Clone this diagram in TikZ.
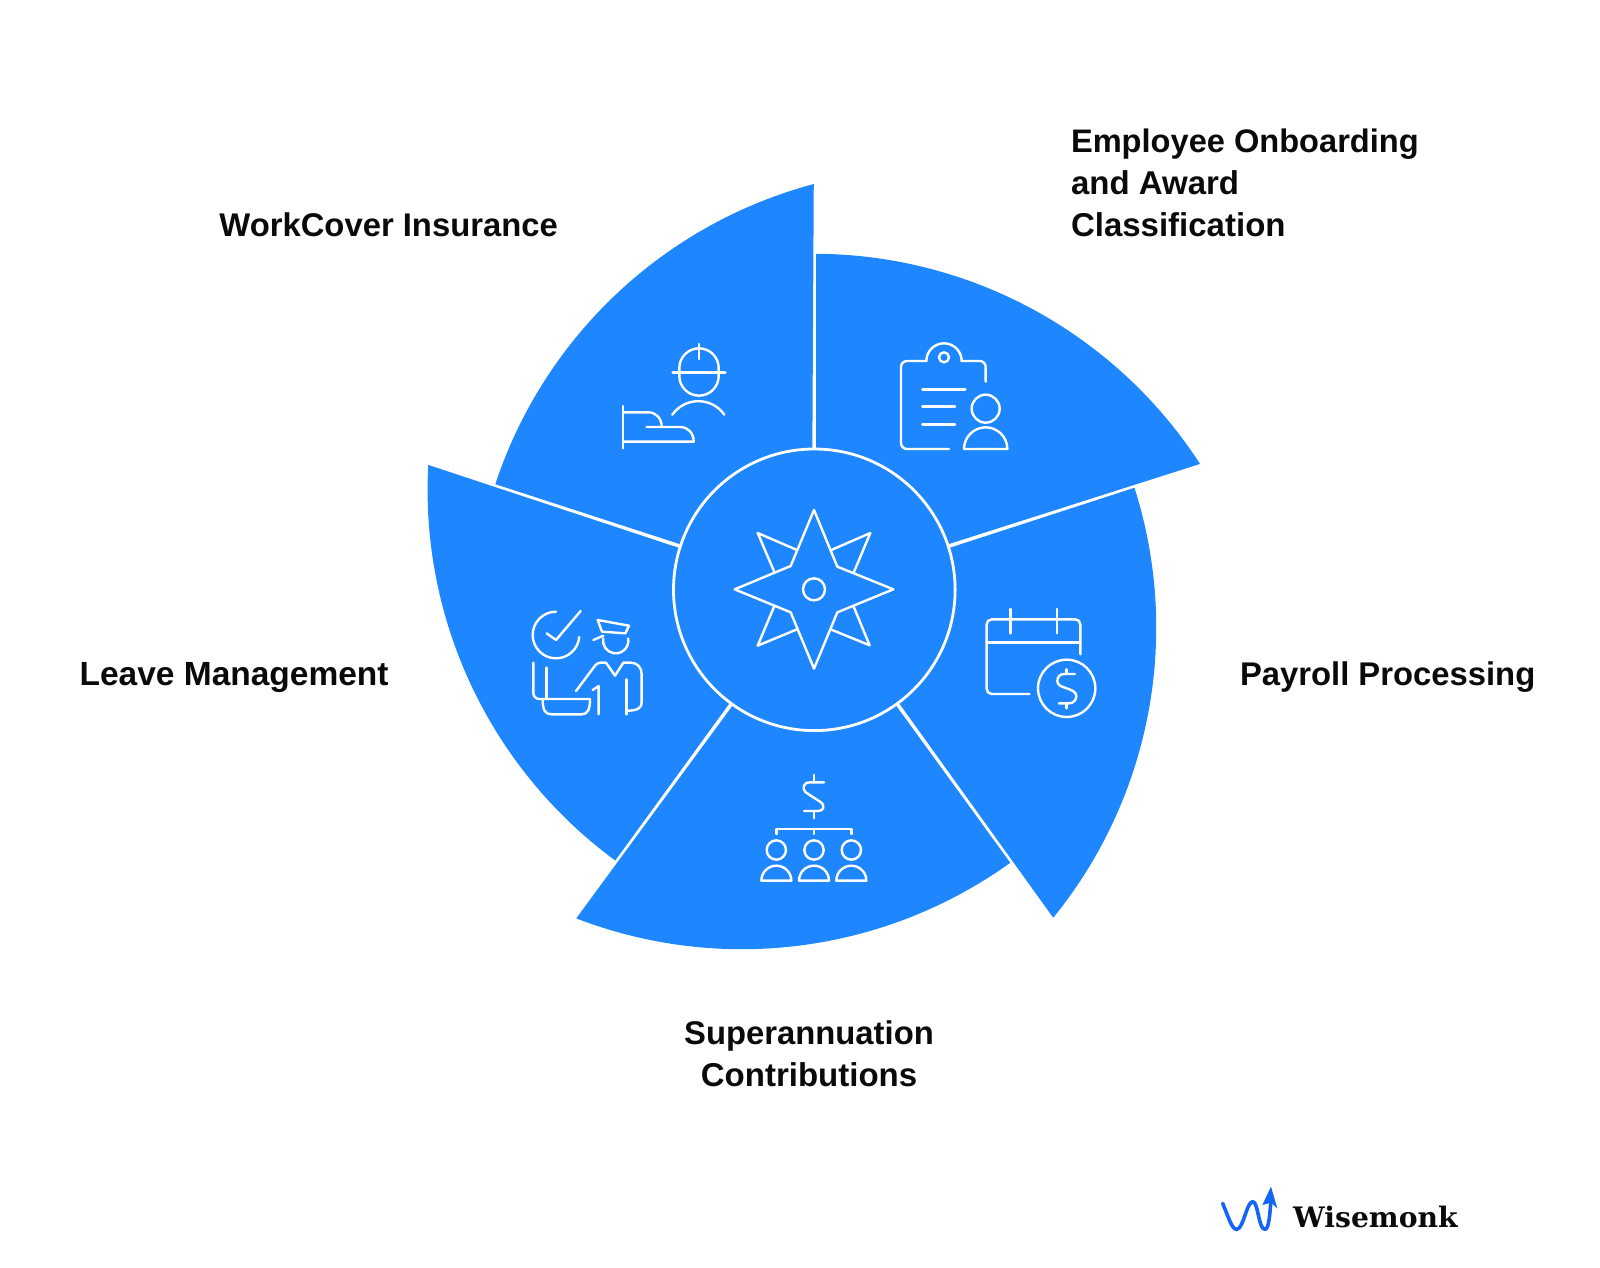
\documentclass[tikz,border=0pt]{standalone}
\usepackage{fontspec}
\setmainfont{Liberation Sans}
\newfontfamily\logofont{DejaVu Serif}
\definecolor{wedgeblue}{HTML}{1E86FF}
\definecolor{logoblue}{HTML}{1565F5}
\definecolor{labelink}{HTML}{0A0A0A}
\tikzset{
  wedgeshape/.style={fill=wedgeblue,draw=none},
  hub/.style={circle,fill=wedgeblue,draw=white,line width=2.8pt,minimum size=281.6pt,inner sep=0pt},
  ico/.style={draw=white,line width=2.4pt,line cap=round,line join=round},
  lab/.style={inner sep=0pt,outer sep=0pt,text=labelink,font=\fontsize{#1}{42.3}\selectfont\bfseries},
  lab/.default=33,
  iconat/.style={shift={#1},scale=1/3,yscale=-1}
}
\begin{document}
\begin{tikzpicture}[x=1pt,y=1pt]
\useasboundingbox (0,0) rectangle (1600,-1268);
% spiral wedges
\begin{scope}[shift={(814.3,-589.8)}]
\foreach \a in {0,-72,-144,-216,-288}{
  \fill[wedgeshape,rotate=\a] (1.9,100) -- (1.9,336) arc[start angle=89.7,end angle=32.9,radius=460] -- (94.5,33) -- cycle;
}
\node[hub] (hubdisc) at (0,0) {};
\end{scope}
% compass
\begin{scope}[iconat={(720,-500)}]
\draw[ico] (282,30)--(352,200)--(520,268)--(352,337)--(282,506)--(212,337)--(44,268)--(212,198)--cycle;
\draw[ico] (282,268) circle[radius=33];
\draw[ico] (334,150)--(451,99)--(401,218);
\draw[ico] (231,150)--(113,99)--(163,216);
\draw[ico] (163,318)--(113,437)--(231,388);
\draw[ico] (401,320)--(449,436)--(332,388);
\end{scope}
% worker
\begin{scope}[iconat={(600,-330)}]
\draw[ico] (238,114) arc[start angle=180,end angle=360,radius=59] -- (356,138) arc[start angle=0,end angle=180,radius=59] -- cycle;
\draw[ico] (218,127)--(376,127);
\draw[ico] (297,42)--(297,87);
\draw[ico] (217,254) .. controls (255,200) and (335,200) .. (373,254);
\draw[ico] (69,228)--(69,355);
\draw[ico] (69,247)--(145,247) .. controls (168,247) and (185,265) .. (185,290);
\draw[ico] (140,291)--(240,291) .. controls (265,291) and (281,310) .. (281,335)--(69,335);
\end{scope}
% clipboard
\begin{scope}[iconat={(880,-330)}]
\draw[ico,rounded corners=6pt] (317,155)--(317,93)--(245,93);
\draw[ico] (245,93) arc[start angle=0,end angle=-180,radius=53];
\draw[ico,rounded corners=6pt] (139,93)--(63,93)--(63,357)--(207,357);
\draw[ico] (192,82) circle[radius=15];
\draw[ico] (127,178)--(256,178);
\draw[ico] (127,230)--(225,230);
\draw[ico] (127,283)--(225,283);
\draw[ico] (317,236) circle[radius=42];
\draw[ico] (252,357) arc[start angle=180,end angle=360,radius=65] -- cycle;
\end{scope}
% calendar
\begin{scope}[iconat={(970,-600)}]
\draw[ico,rounded corners=5pt] (331,163)--(331,58)--(50,58)--(50,282)--(178,282);
\draw[ico] (50,127)--(331,127);
\draw[ico] (121,27)--(121,100);
\draw[ico] (261,27)--(261,100);
\draw[ico] (290,265) circle[radius=86];
\draw[ico] (315,222)--(283,222) .. controls (268,222) and (262,232) .. (262,243) .. controls (262,256) and (275,260) .. (290,265) .. controls (305,270) and (319,276) .. (319,288) .. controls (319,300) and (310,310) .. (297,310)--(267,310);
\draw[ico] (290,208)--(290,222);
\draw[ico] (290,310)--(290,325);
\end{scope}
% superannuation
\begin{scope}[iconat={(740,-760)}]
\draw[ico] (252,67)--(210,67) .. controls (190,67) and (185,85) .. (197,97) -- (240,125) .. controls (258,137) and (250,153) .. (235,153)--(192,153);
\draw[ico] (222,45)--(222,67);
\draw[ico] (222,153)--(222,175);
\draw[ico] (109,222)--(109,207)--(334,207)--(334,222);
\draw[ico] (222,207)--(222,222);
\foreach \c in {109,222,334}{
  \draw[ico] (\c,270) circle[radius=29];
  \draw[ico] (\c-45,362) arc[start angle=180,end angle=360,radius=45] -- cycle;
}
\end{scope}
% leave
\begin{scope}[iconat={(520,-600)}]
\draw[ico] (108,35) arc[start angle=270,end angle=5,radius=70];
\draw[ico] (80,100)--(108,120)--(182,33);
\draw[ico] (233,60)--(327,77)--(316,100)--(246,95)--cycle;
\draw[ico] (220,120)--(250,107);
\draw[ico] (249.6,115.4) arc[start angle=190,end angle=-10,radius=38];
\draw[ico] (168,273)--(225,197) .. controls (230,191) and (235,188) .. (242,188)--(258,188)--(285,227)--(310,188)--(332,188) .. controls (352,188) and (365,203) .. (365,222)--(365,308) .. controls (365,325) and (350,332) .. (322,332);
\draw[ico] (320,238)--(320,343);
\draw[ico] (218,270)--(236,258)--(236,343);
\draw[ico,rounded corners=6pt] (40,188)--(40,297)--(210,297);
\draw[ico] (68,297) .. controls (68,330) and (75,343) .. (95,343) -- (185,343) .. controls (202,343) and (210,330) .. (210,297);
\draw[ico] (80,203)--(80,297);
\end{scope}
% labels
\node[lab=32.6,anchor=base west] (onboarding) at (1071,-153) {Employee Onboarding};
\node[lab,anchor=base west] (award) at (1071,-194) {and Award};
\node[lab,anchor=base west] (classif) at (1071,-236.5) {Classification};
\node[lab=32.8,anchor=base west] (workcover) at (219.4,-236) {WorkCover Insurance};
\node[lab=33.5,anchor=base west] (leave) at (79.6,-685) {Leave Management};
\node[lab=32.8,anchor=base west] (payroll) at (1240,-685) {Payroll Processing};
\node[lab=32.8,anchor=base] (super) at (809,-1044) {Superannuation};
\node[lab,anchor=base] (contrib) at (809,-1086) {Contributions};
% logo
\begin{scope}[iconat={(1200,-1170)}]
\draw[logoblue,line width=3.6pt,line cap=round,line join=round] (68,100) .. controls (85,140) and (95,178) .. (110,178) .. controls (130,178) and (140,95) .. (158,95) .. controls (175,95) and (175,178) .. (195,178) .. controls (208,178) and (210,120) .. (213,90);
\fill[logoblue] (213,50)--(232,115)--(213,98)--(187,105)--cycle;
\end{scope}
\node[inner sep=0pt,anchor=base west,text=labelink,font=\fontsize{28.2}{32}\selectfont\logofont\bfseries] (wisemonk) at (1293,-1227) {Wisemonk};
\end{tikzpicture}
\end{document}
